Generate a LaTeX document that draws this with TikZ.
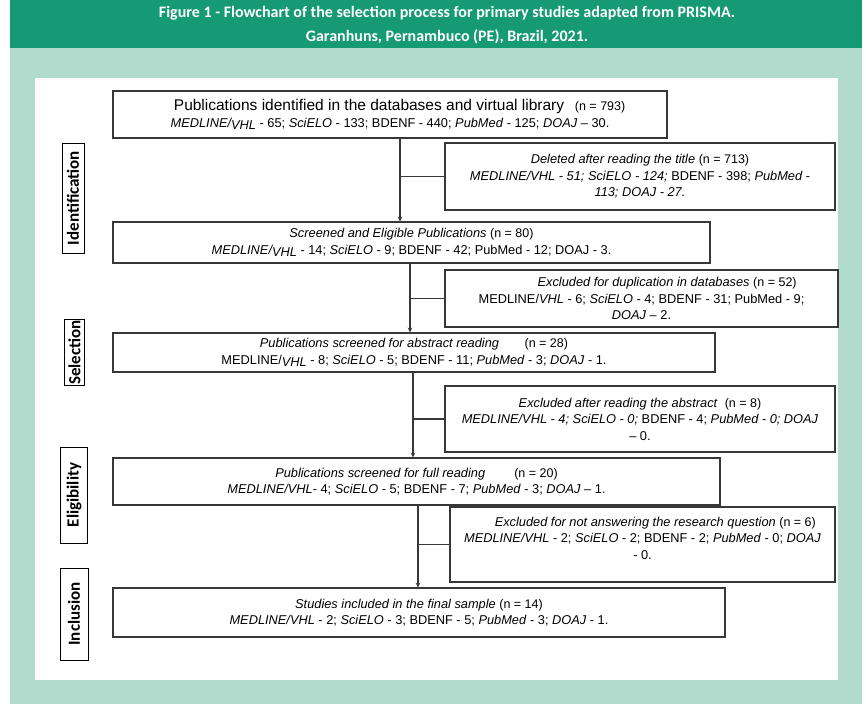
\documentclass[tikz,border=0pt]{standalone}
\usepackage{fontspec}
\setmainfont{Liberation Sans}
\newfontfamily\stagefont{Carlito}
\definecolor{headgreen}{RGB}{21,154,117}
\definecolor{panelgreen}{RGB}{177,219,205}
\definecolor{boxline}{RGB}{55,55,55}
\newcommand{\lowvhl}{\raisebox{-2.5pt}{VHL}}
\newcommand{\nn}[1]{{\fontsize{12.5}{15}\selectfont\upshape #1}}
\begin{document}
\begin{tikzpicture}[x=1pt, y=-1pt]
    % Styles
    \tikzstyle{flowbox} = [rectangle, draw=boxline, line width=1.1pt, fill=white, align=center, inner sep=2pt, font=\fontsize{12.8}{16.5}\selectfont]
    \tikzstyle{stagebox} = [rectangle, draw=black, line width=1pt, fill=white, rotate=90, inner sep=1pt, font=\stagefont\bfseries\fontsize{17}{17}\selectfont]
    \tikzstyle{arrow} = [line width=1.1pt, draw=boxline, ->, >=stealth]
    \tikzstyle{branch} = [line width=1.1pt, draw=boxline]

    % Background
    \useasboundingbox (0,0) rectangle (866,704);
    \fill[headgreen] (10,0) rectangle (862,48);
    \fill[panelgreen] (10,48) rectangle (862,704);
    \fill[white] (35,78) rectangle (838,680);
    \node[text=white, align=center, font=\stagefont\bfseries\fontsize{16}{24}\selectfont] (title) at (447,25)
        {Figure 1 - Flowchart of the selection process for primary studies adapted from PRISMA.\\
         Garanhuns, Pernambuco (PE), Brazil, 2021.};

    % Main boxes
    \node[flowbox, minimum width=554pt, minimum height=47pt] (identified) at (390,114.5)
        {\hspace{1.5em}{\fontsize{15.5}{17}\selectfont Publications identified in the databases and virtual library}\ \ \ \nn{(n = 793)}\\
         \textit{MEDLINE/\lowvhl} - 65; \textit{SciELO} - 133; BDENF - 440; \textit{PubMed} - 125; \textit{DOAJ} -- 30.};
    \node[flowbox, minimum width=597pt, minimum height=41pt] (screened) at (411.5,242.5)
        {\textit{Screened and Eligible Publications} \nn{(n = 80)}\\
         \textit{MEDLINE/\lowvhl} - 14; \textit{SciELO} - 9; BDENF - 42; PubMed - 12; DOAJ - 3.};
    \node[flowbox, minimum width=602pt, minimum height=39pt] (abstract) at (414,352.5)
        {\textit{Publications screened for abstract reading}\qquad\nn{(n = 28)}\\
         MEDLINE/\textit{\lowvhl} - 8; \textit{SciELO} - 5; BDENF - 11; \textit{PubMed} - 3; \textit{DOAJ} - 1.};
    \node[flowbox, minimum width=607pt, minimum height=47pt] (fullread) at (416.5,481.5)
        {\textit{Publications screened for full reading}\qquad\ \nn{(n = 20)}\\
         \textit{MEDLINE/VHL}- 4; \textit{SciELO} - 5; BDENF - 7; \textit{PubMed} - 3; \textit{DOAJ} -- 1.};
    \node[flowbox, minimum width=612pt, minimum height=49pt] (included) at (419,612.5)
        {\textit{Studies included in the final sample} \nn{(n = 14)}\\
         \textit{MEDLINE/VHL} - 2; \textit{SciELO} - 3; BDENF - 5; \textit{PubMed} - 3; \textit{DOAJ} - 1.};

    % Exclusion boxes
    \node[flowbox, minimum width=390pt, minimum height=67pt] (deleted) at (640,176.5)
        {\textit{Deleted after reading the title} \nn{(n = 713)}\\
         \textit{MEDLINE/VHL - 51; SciELO - 124;} BDENF - 398; \textit{PubMed -}\\
         \textit{113; DOAJ - 27.}};
    \node[flowbox, minimum width=393pt, minimum height=57pt] (duplicates) at (641.5,298.5)
        {\hspace{4em}\textit{Excluded for duplication in databases} \nn{(n = 52)}\\
         MEDLINE/\textit{VHL} - 6; \textit{SciELO} - 4; BDENF - 31; PubMed - 9;\\
         \textit{DOAJ} -- 2.};
    \node[flowbox, minimum width=390pt, minimum height=66pt] (exabstract) at (640,419)
        {\textit{Excluded after reading the abstract}\ \ \nn{(n = 8)}\\
         \textit{MEDLINE/VHL - 4; SciELO - 0;} BDENF - 4; \textit{PubMed - 0; DOAJ}\\
         -- 0.};
    \node[flowbox, minimum width=385pt, minimum height=75pt] (unanswered) at (642.5,544.5)
        {\hspace{2em}\textit{Excluded for not answering the research question} \nn{(n = 6)}\\
         \textit{MEDLINE/VHL} - 2; \textit{SciELO} - 2; BDENF - 2; \textit{PubMed} - 0; \textit{DOAJ}\\
         - 0.\\[-4pt]};

    % Stage labels
    \node[stagebox, minimum width=110pt, minimum height=22pt] (identification) at (73,198) {Identification};
    \node[stagebox, minimum width=51pt, minimum height=20pt] (selection) at (74.5,352.5) {Selection};
    \node[stagebox, minimum width=96pt, minimum height=27pt] (eligibility) at (74,495) {Eligibility};
    \node[stagebox, minimum width=92pt, minimum height=28pt] (inclusion) at (74,614) {Inclusion};

    % Flow lines
    \coordinate (c1) at (400,0);
    \coordinate (c2) at (410,0);
    \coordinate (c3) at (413,0);
    \coordinate (c4) at (418,0);
    \draw[arrow] (identified.south -| c1) -- (screened.north -| c1);
    \draw[branch] (deleted.west -| c1) -- (deleted.west);
    \draw[arrow] (screened.south -| c2) -- (abstract.north -| c2);
    \draw[branch] (duplicates.west -| c2) -- (duplicates.west);
    \draw[arrow] (abstract.south -| c3) -- (fullread.north -| c3);
    \draw[branch] (exabstract.west -| c3) -- (exabstract.west);
    \draw[arrow] (fullread.south -| c4) -- (included.north -| c4);
    \draw[branch] (unanswered.west -| c4) -- (unanswered.west);
\end{tikzpicture}
\end{document}
